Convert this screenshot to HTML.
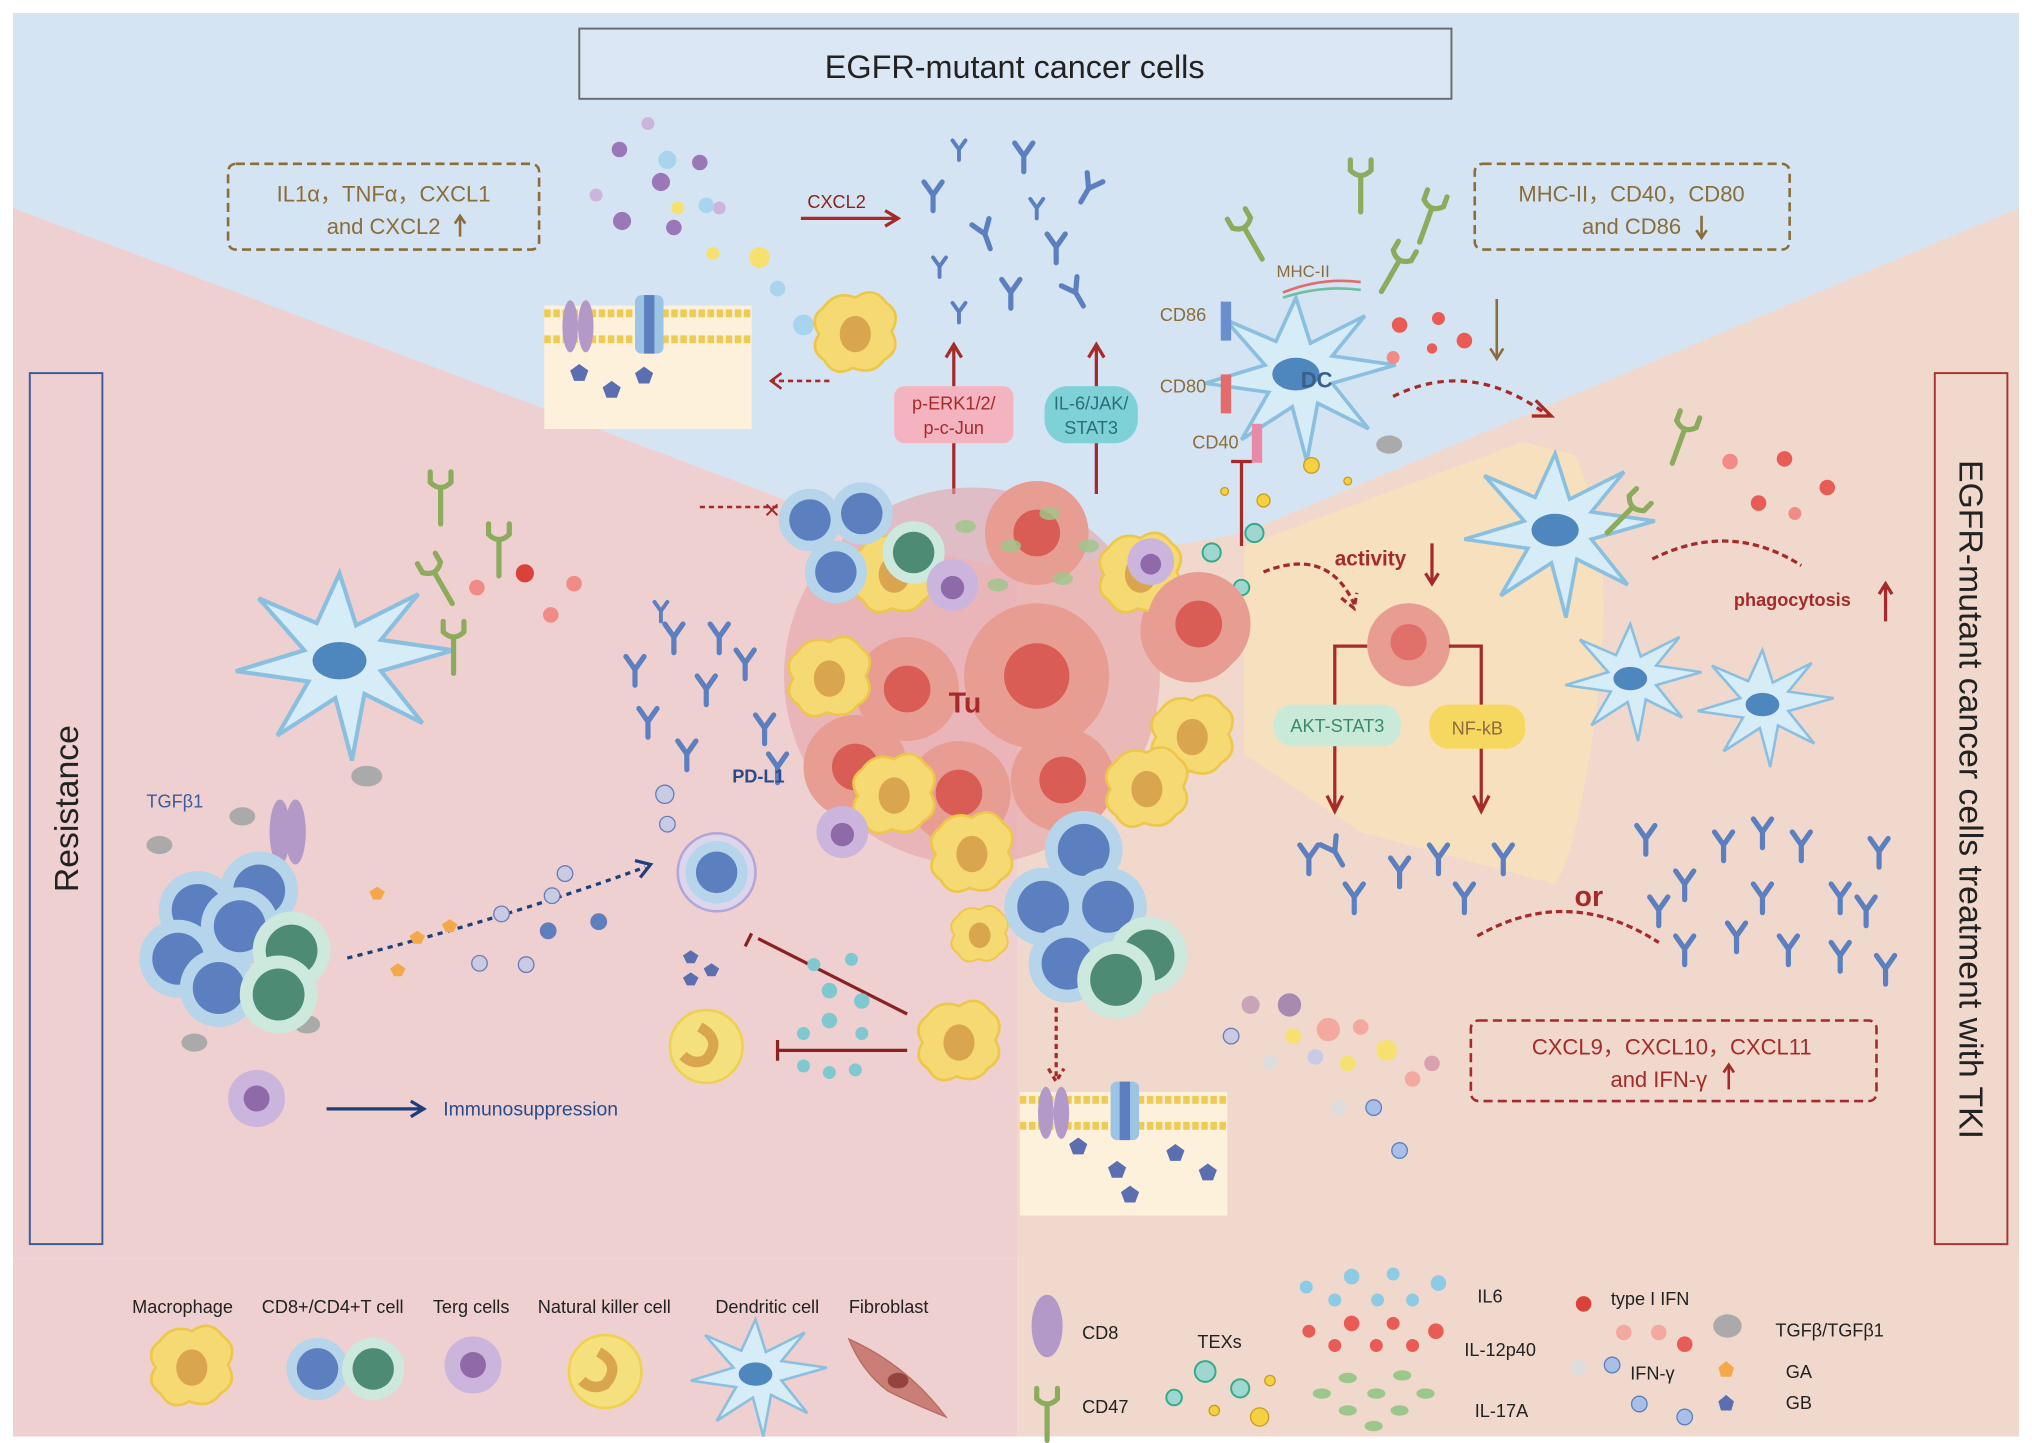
<!DOCTYPE html>
<html><head><meta charset="utf-8"><style>
html,body{margin:0;padding:0;background:#fff;}
svg{display:block;}
text{font-family:"Liberation Sans",sans-serif;}
</style></head><body>
<svg width="2032" height="1443" viewBox="0 0 1568 1110" preserveAspectRatio="none" xmlns="http://www.w3.org/2000/svg">
<defs>
<g id="ab"><path d="M0,0 v12 M0,0 l-7,-10 M0,0 l7,-10" stroke="#5b7fbf" stroke-width="4" fill="none" stroke-linecap="round"/></g>
<g id="abs"><path d="M0,0 v8 M0,0 l-5,-7 M0,0 l5,-7" stroke="#5b7fbf" stroke-width="3" fill="none" stroke-linecap="round"/></g>
<g id="cd47"><path d="M0,0 v28 M-8,-12 v8 q8,8 16,0 v-8" stroke="#8cab5c" stroke-width="4" fill="none" stroke-linecap="round"/></g>
<g id="mac"><path d="M-25,-18 q10,-14 25,-8 q14,-10 24,4 q12,8 4,22 q8,14 -6,22 q-8,12 -24,6 q-14,8 -22,-6 q-12,-8 -4,-20 q-8,-12 3,-20z" fill="#f5d972" stroke="#ecc74a" stroke-width="2"/><ellipse cx="0" cy="2" rx="12" ry="14" fill="#d9a54e"/></g>
<g id="tc"><circle r="24" fill="#b6d4ea"/><circle r="16" fill="#5b7fbf"/></g>
<g id="tcg"><circle r="24" fill="#cde8dc"/><circle r="16" fill="#4e8b74"/></g>
<g id="tum"><circle r="40" fill="#e89d92"/><circle r="18" fill="#d95c55"/></g>
<g id="dc"><path d="M0,-40 l8,25 l30,-15 l-18,22 l35,5 l-35,10 l20,25 l-28,-14 l-6,32 l-8,-30 l-28,18 l15,-26 l-35,-5 l33,-10 l-22,-25 l28,12z" fill="#d6ecf7" stroke="#8bbfe0" stroke-width="2"/><ellipse cx="0" cy="2" rx="13" ry="9" fill="#4e87bd"/></g>
<g id="membrane"><rect x="0" y="0" width="160" height="95" fill="#fdf1dc"/><line x1="0" y1="6" x2="160" y2="6" stroke="#eecb55" stroke-width="6" stroke-dasharray="5 2"/><line x1="0" y1="26" x2="160" y2="26" stroke="#eecb55" stroke-width="6" stroke-dasharray="5 2"/><ellipse cx="20" cy="16" rx="6" ry="20" fill="#b399c8"/><ellipse cx="32" cy="16" rx="6" ry="20" fill="#b399c8"/><rect x="70" y="-8" width="22" height="45" rx="5" fill="#9cc4e4"/><rect x="77" y="-8" width="8" height="45" fill="#5b7fbf"/></g>
</defs>
<rect width="1568" height="1110" fill="#fff"/>
<polygon points="10,10 1558,10 1558,968 10,968" fill="#efd0d0"/>
<polygon points="785,400 1558,160 1558,1105 785,1105" fill="#f0d9cc"/>
<rect x="10" y="968" width="775" height="137" fill="#efd0d0"/>
<polygon points="10,10 1558,10 1558,160 960,410 790,440 700,420 10,160" fill="#d5e4f3"/>
<path d="M960,420 L1175,340 L1215,350 Q1250,420 1230,560 Q1215,660 1200,680 L1050,640 L960,580z" fill="#f7e0bc" opacity="0.9"/>
<rect x="447" y="22" width="673" height="54" fill="#dbe7f5" stroke="#6b6b6b" stroke-width="1.5"/>
<text x="783" y="60" font-size="25" text-anchor="middle" fill="#222">EGFR-mutant cancer cells</text>
<rect x="23" y="287" width="56" height="670" fill="none" stroke="#3b5b9b" stroke-width="1.5"/>
<text transform="translate(60,622) rotate(-90)" font-size="26" text-anchor="middle" fill="#222">Resistance</text>
<rect x="1493" y="287" width="56" height="670" fill="none" stroke="#a33" stroke-width="1.5"/>
<text transform="translate(1512,615) rotate(90)" font-size="26" text-anchor="middle" fill="#222">EGFR-mutant cancer cells treatment with TKI</text>
<rect x="176" y="126" width="240" height="66" rx="6" fill="none" stroke="#8a6d3b" stroke-width="2" stroke-dasharray="7 4"/>
<text x="296" y="155" font-size="17" text-anchor="middle" fill="#8a6d3b">IL1α，TNFα，CXCL1</text>
<text x="296" y="180" font-size="17" text-anchor="middle" fill="#8a6d3b">and CXCL2</text>
<path d="M355,182 v-14 m-4,4 l4,-6 l4,6" stroke="#8a6d3b" stroke-width="2" fill="none"/>
<rect x="1138" y="126" width="243" height="66" rx="6" fill="none" stroke="#8a6d3b" stroke-width="2" stroke-dasharray="7 4"/>
<text x="1259" y="155" font-size="17" text-anchor="middle" fill="#8a6d3b">MHC-II，CD40，CD80</text>
<text x="1259" y="180" font-size="17" text-anchor="middle" fill="#8a6d3b">and CD86</text>
<path d="M1313,166 v16 m-4,-5 l4,6 l4,-6" stroke="#8a6d3b" stroke-width="2" fill="none"/>
<rect x="1135" y="785" width="313" height="62" rx="6" fill="none" stroke="#a52a2a" stroke-width="2" stroke-dasharray="7 4"/>
<text x="1290" y="811" font-size="17" text-anchor="middle" fill="#a52a2a">CXCL9，CXCL10，CXCL11</text>
<text x="1280" y="836" font-size="17" text-anchor="middle" fill="#a52a2a">and IFN-γ</text>
<path d="M1334,838 v-18 m-4,5 l4,-6 l4,6" stroke="#a52a2a" stroke-width="2" fill="none"/>
<g fill="#9a78b8"><circle cx="478" cy="115" r="6"/><circle cx="510" cy="140" r="7"/><circle cx="540" cy="125" r="6"/><circle cx="480" cy="170" r="7"/><circle cx="520" cy="175" r="6"/><circle cx="460" cy="150" r="5" fill="#cbb5dc"/><circle cx="555" cy="160" r="5" fill="#cbb5dc"/><circle cx="500" cy="95" r="5" fill="#cbb5dc"/></g>
<g fill="#f5e070"><circle cx="523" cy="160" r="5"/><circle cx="586" cy="198" r="8"/><circle cx="550" cy="195" r="5"/></g>
<g fill="#a8d4ee"><circle cx="515" cy="123" r="7"/><circle cx="545" cy="158" r="6"/><circle cx="600" cy="222" r="6"/><circle cx="620" cy="250" r="8"/></g>
<use href="#membrane" x="420" y="235"/>
<g fill="#5b6eb0"><polygon points="440,285 447,280 454,285 451,293 443,293"/><polygon points="465,298 472,293 479,298 476,306 468,306"/><polygon points="490,287 497,282 504,287 501,295 493,295"/></g>
<use href="#mac" x="660" y="255"/>
<g>
<use href="#ab" x="790" y="120"/><use href="#ab" x="760" y="180" transform="rotate(-20 760 180)"/><use href="#ab" x="840" y="145" transform="rotate(30 840 145)"/><use href="#ab" x="720" y="150"/><use href="#ab" x="815" y="190"/><use href="#ab" x="780" y="225"/><use href="#ab" x="830" y="225" transform="rotate(-30 830 225)"/><use href="#abs" x="740" y="115"/><use href="#abs" x="740" y="240"/><use href="#abs" x="725" y="205"/><use href="#abs" x="800" y="160"/>
</g>
<text x="623" y="160" font-size="14" fill="#8a2222">CXCL2</text>
<path d="M618,168 h75 m-10,-6 l10,6 l-10,6" stroke="#a52a2a" stroke-width="2.5" fill="none"/>
<path d="M736,380 v-115 m-6,10 l6,-10 l6,10" stroke="#a52a2a" stroke-width="2.5" fill="none"/>
<path d="M846,380 v-115 m-6,10 l6,-10 l6,10" stroke="#a52a2a" stroke-width="2.5" fill="none"/>
<rect x="690" y="297" width="92" height="44" rx="8" fill="#f3b4c0"/>
<text x="736" y="315" font-size="14" text-anchor="middle" fill="#a52a2a">p-ERK1/2/</text>
<text x="736" y="334" font-size="14" text-anchor="middle" fill="#a52a2a">p-c-Jun</text>
<rect x="806" y="297" width="72" height="44" rx="18" fill="#7fd1d8"/>
<text x="842" y="315" font-size="14" text-anchor="middle" fill="#2a6f75">IL-6/JAK/</text>
<text x="842" y="334" font-size="14" text-anchor="middle" fill="#2a6f75">STAT3</text>
<path d="M640,293 h-45" stroke="#a52a2a" stroke-width="2" stroke-dasharray="4 3" fill="none"/>
<path d="M603,287 l-8,6 l8,6" stroke="#a52a2a" stroke-width="2" fill="none"/>
<path d="M600,390 h-60" stroke="#a52a2a" stroke-width="2" stroke-dasharray="4 3"/>
<text x="589" y="398" font-size="16" fill="#a52a2a">✕</text>
<g transform="translate(1000,285) scale(1.4)"><use href="#dc"/></g>
<text x="1016" y="298" font-size="17" font-weight="bold" fill="#3a5f8a" text-anchor="middle">DC</text>
<text x="985" y="213" font-size="13" fill="#8a6d3b">MHC-II</text>
<text x="895" y="247" font-size="14" fill="#8a6d3b">CD86</text>
<text x="895" y="302" font-size="14" fill="#8a6d3b">CD80</text>
<text x="920" y="345" font-size="14" fill="#8a6d3b">CD40</text>
<rect x="942" y="232" width="8" height="30" fill="#6b8ed0"/><rect x="942" y="288" width="8" height="30" fill="#e56b6b"/><rect x="966" y="326" width="8" height="30" fill="#e78aa8"/>
<path d="M990,225 q30,-12 60,-8" stroke="#e06d6d" stroke-width="2" fill="none"/><path d="M990,229 q30,-10 60,-6" stroke="#6cc0a0" stroke-width="2" fill="none"/>
<use href="#cd47" x="960" y="175" transform="rotate(-30 960 175)"/><use href="#cd47" x="1050" y="135"/><use href="#cd47" x="1105" y="160" transform="rotate(20 1105 160)"/><use href="#cd47" x="1080" y="200" transform="rotate(30 1080 200)"/>
<g fill="#e85c55"><circle cx="1080" cy="250" r="6"/><circle cx="1110" cy="245" r="5"/><circle cx="1075" cy="275" r="5" fill="#f08b85"/><circle cx="1130" cy="262" r="6"/><circle cx="1105" cy="268" r="4"/></g>
<path d="M1155,230 v45 m-5,-7 l5,8 l5,-8" stroke="#8a6d3b" stroke-width="2" fill="none"/>
<path d="M1075,305 q60,-30 120,15" stroke="#a52a2a" stroke-width="2.5" fill="none" stroke-dasharray="5 4"/>
<path d="M1185,308 l12,12 l-15,0" stroke="#a52a2a" stroke-width="2.5" fill="none"/>
<ellipse cx="1072" cy="342" rx="10" ry="7" fill="#aaa"/>
<path d="M958,420 v-65 m-8,0 h16" stroke="#a52a2a" stroke-width="2.5" fill="none"/>
<g fill="#f5d040" stroke="#c99b20"><circle cx="1012" cy="358" r="6"/><circle cx="975" cy="385" r="5"/><circle cx="945" cy="378" r="3"/><circle cx="1040" cy="370" r="3"/></g>
<g fill="#9fd6cf" stroke="#3a8" stroke-width="1.5"><circle cx="968" cy="410" r="7"/><circle cx="935" cy="425" r="7"/><circle cx="958" cy="452" r="6"/></g>
<circle cx="750" cy="520" r="145" fill="#e6a3a8" opacity="0.6"/>
<g>
<use href="#tum" x="800" y="410"/><use href="#tum" x="700" y="530"/><use href="#tum" x="800" y="520" transform="translate(800 520) scale(1.4) translate(-800 -520)"/><use href="#tum" x="660" y="590"/><use href="#tum" x="820" y="600"/><use href="#tum" x="920" y="485"/><use href="#tum" x="740" y="610"/>
<use href="#mac" x="640" y="520"/><use href="#mac" x="880" y="440"/><use href="#mac" x="690" y="440"/><use href="#mac" x="920" y="565"/><use href="#mac" x="885" y="605"/><use href="#mac" x="750" y="655"/><use href="#mac" x="690" y="610"/>
<use href="#tc" x="625" y="400"/><use href="#tc" x="665" y="395"/><use href="#tcg" x="705" y="425"/><use href="#tc" x="645" y="440"/>
</g>
<text x="732" y="548" font-size="22" font-weight="bold" fill="#a52a2a">Tu</text>
<g fill="#cbb5dc"><circle cx="735" cy="450" r="20"/><circle cx="888" cy="432" r="18"/><circle cx="650" cy="640" r="20"/></g>
<g fill="#8e6aa8"><circle cx="735" cy="452" r="9"/><circle cx="888" cy="434" r="8"/><circle cx="650" cy="642" r="9"/></g>
<g fill="#9cc78a" opacity=".8"><ellipse cx="745" cy="405" rx="8" ry="5"/><ellipse cx="780" cy="420" rx="8" ry="5"/><ellipse cx="810" cy="395" rx="8" ry="5"/><ellipse cx="840" cy="420" rx="8" ry="5"/><ellipse cx="770" cy="450" rx="8" ry="5"/><ellipse cx="820" cy="445" rx="8" ry="5"/></g>
<use href="#tum" x="925" y="480"/>
<text x="1030" y="435" font-size="16" font-weight="bold" fill="#a52a2a">activity</text>
<path d="M1105,418 v30 m-5,-7 l5,8 l5,-8" stroke="#a52a2a" stroke-width="2.5" fill="none"/>
<path d="M975,440 q50,-20 70,25 m-10,-5 l10,8 l2,-12" stroke="#a52a2a" stroke-width="2.5" fill="none" stroke-dasharray="5 3"/>
<circle cx="1087" cy="496" r="32" fill="#e89d92"/><circle cx="1087" cy="494" r="14" fill="#e2706a"/>
<path d="M1055,497 h-25 v125 m-6,-10 l6,12 l6,-12 M1118,497 h25 v125 m-6,-10 l6,12 l6,-12" stroke="#a52a2a" stroke-width="2.5" fill="none"/>
<rect x="983" y="542" width="98" height="32" rx="14" fill="#c9ead8"/><text x="1032" y="563" font-size="14" text-anchor="middle" fill="#3b8a6b">AKT-STAT3</text>
<rect x="1103" y="542" width="74" height="34" rx="15" fill="#f6d860"/><text x="1140" y="565" font-size="14" text-anchor="middle" fill="#8a6d3b">NF-kB</text>
<g><use href="#ab" x="1010" y="660"/><use href="#ab" x="1045" y="690"/><use href="#ab" x="1080" y="670"/><use href="#ab" x="1110" y="660"/><use href="#ab" x="1160" y="660"/><use href="#ab" x="1130" y="690"/><use href="#ab" x="1030" y="655" transform="rotate(-30 1030 655)"/></g>
<text x="1215" y="697" font-size="22" font-weight="bold" fill="#a52a2a">or</text>
<path d="M1140,720 q70,-40 140,5" stroke="#a52a2a" stroke-width="2.5" fill="none" stroke-dasharray="5 3"/>
<g>
<use href="#ab" x="1270" y="645"/><use href="#ab" x="1300" y="680"/><use href="#ab" x="1330" y="650"/><use href="#ab" x="1360" y="690"/><use href="#ab" x="1390" y="650"/><use href="#ab" x="1420" y="690"/><use href="#ab" x="1450" y="655"/><use href="#ab" x="1300" y="730"/><use href="#ab" x="1340" y="720"/><use href="#ab" x="1380" y="730"/><use href="#ab" x="1420" y="735"/><use href="#ab" x="1455" y="745"/><use href="#ab" x="1280" y="700"/><use href="#ab" x="1360" y="640"/><use href="#ab" x="1440" y="700"/>
</g>
<g transform="translate(1200,405) scale(1.4)"><use href="#dc"/></g>
<use href="#cd47" x="1260" y="390" transform="rotate(45 1260 390)"/><use href="#cd47" x="1300" y="330" transform="rotate(20 1300 330)"/>
<g fill="#e85c55"><circle cx="1335" cy="355" r="6" fill="#f08b85"/><circle cx="1377" cy="353" r="6"/><circle cx="1410" cy="375" r="6"/><circle cx="1357" cy="387" r="6"/><circle cx="1385" cy="395" r="5" fill="#f08b85"/></g>
<path d="M1275,430 q60,-30 115,5" stroke="#a52a2a" stroke-width="2.5" fill="none" stroke-dasharray="5 3"/>
<text x="1338" y="466" font-size="14" font-weight="bold" fill="#a52a2a">phagocytosis</text>
<path d="M1455,478 v-28 m-5,7 l5,-8 l5,8" stroke="#a52a2a" stroke-width="2.5" fill="none"/>
<use href="#dc" x="1258" y="520"/><use href="#dc" x="1360" y="540"/>
<g transform="translate(262,505) scale(1.6)"><use href="#dc"/></g>
<use href="#cd47" x="340" y="375"/><use href="#cd47" x="385" y="415"/><use href="#cd47" x="335" y="440" transform="rotate(-30 335 440)"/><use href="#cd47" x="350" y="490"/>
<g fill="#f08b85"><circle cx="368" cy="452" r="6"/><circle cx="405" cy="441" r="7" fill="#d9413a"/><circle cx="443" cy="449" r="6"/><circle cx="425" cy="473" r="6"/></g>
<ellipse cx="283" cy="597" rx="12" ry="8" fill="#aaa"/>
<text x="113" y="621" font-size="14" fill="#3b5b9b">TGFβ1</text>
<ellipse cx="216" cy="640" rx="8" ry="25" fill="#b399c8"/><ellipse cx="228" cy="640" rx="8" ry="25" fill="#b399c8"/>
<ellipse cx="187" cy="628" rx="10" ry="7" fill="#aaa"/><ellipse cx="123" cy="650" rx="10" ry="7" fill="#aaa"/><ellipse cx="150" cy="802" rx="10" ry="7" fill="#aaa"/><ellipse cx="237" cy="788" rx="10" ry="7" fill="#aaa"/>
<g transform="scale(1.25)"><use href="#tc" x="122" y="560"/><use href="#tc" x="160" y="548"/><use href="#tc" x="110" y="590"/><use href="#tc" x="148" y="570"/><use href="#tcg" x="180" y="585"/><use href="#tc" x="135" y="608"/><use href="#tcg" x="172" y="612"/></g>
<path d="M268,737 q120,-30 230,-70" stroke="#1f3f7a" stroke-width="2.5" fill="none" stroke-dasharray="4 4"/>
<path d="M490,662 l12,3 l-8,10" stroke="#1f3f7a" stroke-width="2.5" fill="none"/>
<g fill="#f5a84a"><polygon points="285,686 291,682 297,686 294,692 288,692"/><polygon points="316,720 322,716 328,720 325,726 319,726"/><polygon points="341,711 347,707 353,711 350,717 344,717"/><polygon points="301,745 307,741 313,745 310,751 304,751"/></g>
<g fill="#c7cbe3" stroke="#6b7ab8"><circle cx="370" cy="741" r="6"/><circle cx="387" cy="703" r="6"/><circle cx="406" cy="742" r="6"/><circle cx="426" cy="689" r="6"/><circle cx="436" cy="672" r="6"/><circle cx="423" cy="716" r="6" fill="#5b7fbf"/><circle cx="462" cy="709" r="6" fill="#5b7fbf"/><circle cx="513" cy="611" r="7"/><circle cx="515" cy="634" r="6"/></g>
<g fill="#cbb5dc"><circle cx="198" cy="845" r="22"/></g><circle cx="198" cy="845" r="10" fill="#8e6aa8"/>
<path d="M252,853 h75 m-10,-6 l10,6 l-10,6" stroke="#1f3f7a" stroke-width="2.5" fill="none"/>
<text x="342" y="858" font-size="15" fill="#2a4d8a">Immunosuppression</text>
<g><use href="#ab" x="490" y="515"/><use href="#ab" x="520" y="490"/><use href="#ab" x="555" y="490"/><use href="#ab" x="545" y="530"/><use href="#ab" x="575" y="510"/><use href="#ab" x="500" y="555"/><use href="#ab" x="530" y="580"/><use href="#ab" x="590" y="560"/><use href="#ab" x="600" y="590"/><use href="#abs" x="510" y="470"/></g>
<text x="565" y="602" font-size="14" font-weight="bold" fill="#2a4d8a">PD-L1</text>
<circle cx="553" cy="671" r="30" fill="#dcd6ec" stroke="#b3a6d6" stroke-width="2"/><use href="#tc" x="553" y="671"/>
<g fill="#5b6eb0"><polygon points="527,735 533,731 539,735 536,741 530,741"/><polygon points="543,745 549,741 555,745 552,751 546,751"/><polygon points="527,752 533,748 539,752 536,758 530,758"/></g>
<path d="M585,722 L700,780 M580,718 l-5,10" stroke="#8a2222" stroke-width="2.5"/>
<path d="M600,808 h100 M600,800 v16" stroke="#8a2222" stroke-width="2.5"/>
<g fill="#7fc8d0"><circle cx="628" cy="742" r="5"/><circle cx="640" cy="762" r="6"/><circle cx="657" cy="738" r="5"/><circle cx="665" cy="770" r="6"/><circle cx="620" cy="795" r="5"/><circle cx="640" cy="785" r="6"/><circle cx="665" cy="795" r="5"/><circle cx="620" cy="820" r="5"/><circle cx="640" cy="825" r="5"/><circle cx="660" cy="823" r="5"/></g>
<circle cx="545" cy="805" r="28" fill="#f5e07e" stroke="#f0d050" stroke-width="2"/><path d="M540,790 q18,10 5,25 q-10,5 -18,-3" stroke="#d9a54e" stroke-width="8" fill="none"/>
<use href="#mac" x="740" y="800"/><use href="#mac" x="756" y="718" transform="translate(756 718) scale(.7) translate(-756 -718)"/>
<g transform="translate(855,710) scale(1.25) translate(-855,-710)"><use href="#tc" x="840" y="665"/><use href="#tc" x="815" y="700"/><use href="#tc" x="855" y="700"/><use href="#tcg" x="880" y="730"/><use href="#tc" x="830" y="735"/><use href="#tcg" x="860" y="745"/></g>
<path d="M815,775 v55 m-6,-8 l6,10 l6,-10" stroke="#a52a2a" stroke-width="2.5" fill="none" stroke-dasharray="4 3"/>
<use href="#membrane" x="787" y="840"/>
<g fill="#5b6eb0"><polygon points="825,880 832,875 839,880 836,888 828,888"/><polygon points="855,898 862,893 869,898 866,906 858,906"/><polygon points="900,885 907,880 914,885 911,893 903,893"/><polygon points="865,917 872,912 879,917 876,925 868,925"/><polygon points="925,900 932,895 939,900 936,908 928,908"/></g>
<g><circle cx="965" cy="773" r="7" fill="#c9a3b8"/><circle cx="995" cy="773" r="9" fill="#a88ab0"/><circle cx="950" cy="797" r="6" fill="#c7cbe3" stroke="#6b7ab8"/><circle cx="998" cy="797" r="6" fill="#f5e070"/><circle cx="1025" cy="792" r="9" fill="#f3a8a0"/><circle cx="1050" cy="790" r="6" fill="#f3a8a0"/><circle cx="1070" cy="808" r="8" fill="#f5e070"/><circle cx="1015" cy="813" r="6" fill="#c7cbe3"/><circle cx="980" cy="817" r="6" fill="#ddd"/><circle cx="1040" cy="818" r="6" fill="#f5e070"/><circle cx="1105" cy="818" r="6" fill="#d9a0b0"/><circle cx="1090" cy="830" r="6" fill="#f3a8a0"/><circle cx="1033" cy="852" r="6" fill="#ddd"/><circle cx="1060" cy="852" r="6" fill="#a8c0e8" stroke="#5b7fbf"/><circle cx="1080" cy="885" r="6" fill="#a8c0e8" stroke="#5b7fbf"/></g>
<g font-size="14" fill="#222">
<text x="102" y="1010">Macrophage</text><text x="202" y="1010">CD8+/CD4+T cell</text><text x="334" y="1010">Terg cells</text><text x="415" y="1010">Natural killer cell</text><text x="552" y="1010">Dendritic cell</text><text x="655" y="1010">Fibroblast</text>
</g>
<use href="#mac" x="148" y="1050"/>
<use href="#tc" x="245" y="1053"/><use href="#tcg" x="288" y="1053"/>
<circle cx="365" cy="1050" r="22" fill="#cbb5dc"/><circle cx="365" cy="1050" r="10" fill="#8e6aa8"/>
<circle cx="467" cy="1055" r="28" fill="#f5e07e" stroke="#f0d050" stroke-width="2"/><path d="M462,1040 q18,10 5,25 q-10,5 -18,-3" stroke="#d9a54e" stroke-width="8" fill="none"/>
<use href="#dc" x="583" y="1055"/>
<path d="M655,1030 q45,20 75,60 q-25,-10 -45,-20 q-20,-15 -30,-40z" fill="#c97f76" stroke="#b56b64"/><ellipse cx="693" cy="1062" rx="8" ry="6" fill="#94433e"/>
<ellipse cx="808" cy="1020" rx="12" ry="24" fill="#b399c8"/>
<use href="#cd47" x="808" y="1080"/>
<g font-size="14" fill="#222"><text x="835" y="1030">CD8</text><text x="835" y="1087">CD47</text><text x="924" y="1037">TEXs</text><text x="1140" y="1002">IL6</text><text x="1130" y="1043">IL-12p40</text><text x="1138" y="1090">IL-17A</text><text x="1243" y="1004">type I IFN</text><text x="1258" y="1061">IFN-γ</text><text x="1370" y="1028">TGFβ/TGFβ1</text><text x="1378" y="1060">GA</text><text x="1378" y="1084">GB</text></g>
<g fill="#9fd6cf" stroke="#3a8" stroke-width="1.5"><circle cx="930" cy="1055" r="8"/><circle cx="957" cy="1068" r="7"/><circle cx="906" cy="1075" r="6"/></g>
<g fill="#f5d040" stroke="#c99b20"><circle cx="980" cy="1062" r="4"/><circle cx="937" cy="1085" r="4"/><circle cx="972" cy="1090" r="7"/></g>
<g fill="#8ccbe3"><circle cx="1043" cy="982" r="6"/><circle cx="1075" cy="980" r="5"/><circle cx="1008" cy="990" r="5"/><circle cx="1110" cy="987" r="6"/><circle cx="1030" cy="1000" r="5"/><circle cx="1063" cy="1000" r="5"/><circle cx="1090" cy="1000" r="5"/></g>
<g fill="#e85c55"><circle cx="1010" cy="1024" r="5"/><circle cx="1043" cy="1018" r="6"/><circle cx="1075" cy="1018" r="5"/><circle cx="1108" cy="1024" r="6"/><circle cx="1030" cy="1035" r="5"/><circle cx="1062" cy="1035" r="5"/><circle cx="1090" cy="1035" r="5"/></g>
<g fill="#9cc78a"><ellipse cx="1040" cy="1060" rx="7" ry="4"/><ellipse cx="1082" cy="1058" rx="7" ry="4"/><ellipse cx="1020" cy="1072" rx="7" ry="4"/><ellipse cx="1062" cy="1072" rx="7" ry="4"/><ellipse cx="1100" cy="1072" rx="7" ry="4"/><ellipse cx="1040" cy="1085" rx="7" ry="4"/><ellipse cx="1080" cy="1085" rx="7" ry="4"/><ellipse cx="1060" cy="1097" rx="7" ry="4"/></g>
<circle cx="1222" cy="1003" r="6" fill="#d9413a"/>
<circle cx="1253" cy="1025" r="6" fill="#f3a8a0"/><circle cx="1280" cy="1025" r="6" fill="#f3a8a0"/><circle cx="1300" cy="1034" r="6" fill="#e85c55"/>
<ellipse cx="1333" cy="1020" rx="11" ry="9" fill="#aaa"/>
<circle cx="1218" cy="1052" r="6" fill="#ddd"/><circle cx="1244" cy="1050" r="6" fill="#a8c0e8" stroke="#5b7fbf"/>
<circle cx="1265" cy="1080" r="6" fill="#a8c0e8" stroke="#5b7fbf"/><circle cx="1300" cy="1090" r="6" fill="#a8c0e8" stroke="#5b7fbf"/>
<polygon points="1326,1052 1332,1047 1338,1052 1336,1059 1328,1059" fill="#f5a84a"/>
<polygon points="1326,1078 1332,1073 1338,1078 1336,1085 1328,1085" fill="#5b6eb0"/>
</svg>
</body></html>
